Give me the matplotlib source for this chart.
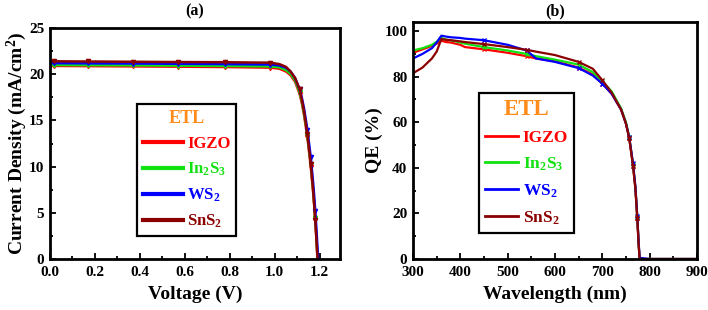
import matplotlib
matplotlib.use("Agg")
import matplotlib.pyplot as plt
from matplotlib.ticker import MultipleLocator, FormatStrFormatter

plt.rcParams['font.family'] = ['Liberation Serif', 'DejaVu Serif']
plt.rcParams['font.weight'] = 'bold'
plt.rcParams['mathtext.fontset'] = 'custom'
plt.rcParams['mathtext.rm'] = 'Liberation Serif:bold'
plt.rcParams['mathtext.it'] = 'Liberation Serif:bold'
plt.rcParams['mathtext.bf'] = 'Liberation Serif:bold'

# series names and colours
labels = ['IGZO', 'In$_2$S$_3$', 'WS$_2$', 'SnS$_2$']
colors = ['#FF0000', '#11E011', '#0000FF', '#8B0000']

# (a) J-V curves
voltage = [0.0, 0.02, 0.17, 0.37, 0.57, 0.78, 0.98, 1.02, 1.05, 1.07, 1.09,
           1.11, 1.12, 1.13, 1.145, 1.16, 1.17, 1.175, 1.18, 1.185, 1.19, 1.195]
j_igzo = [20.9, 20.9, 20.88, 20.85, 20.82, 20.78, 20.72, 20.6, 20.3, 19.9, 19.2,
          17.9, 16.9, 15.6, 13.2, 10.0, 7.4, 5.9, 4.2, 2.3, 0.0, -1.8]
j_in2s3 = [21.0, 21.0, 20.98, 20.96, 20.93, 20.9, 20.85, 20.75, 20.45, 20.05, 19.35,
           18.1, 17.1, 15.8, 13.4, 10.3, 7.7, 6.1, 4.4, 2.5, 0.2, -1.6]
j_ws2 = [21.2, 21.2, 21.18, 21.16, 21.13, 21.1, 21.05, 20.95, 20.7, 20.3, 19.6,
         18.4, 17.5, 16.3, 14.0, 11.0, 8.4, 6.9, 5.2, 3.3, 1.2, -0.8]
j_sns2 = [21.4, 21.4, 21.38, 21.35, 21.32, 21.3, 21.25, 21.1, 20.8, 20.3, 19.6,
          18.4, 17.3, 16.0, 13.5, 10.3, 7.6, 6.0, 4.2, 2.2, 0.1, -1.5]

# (b) QE spectra
wavelength = [300, 320, 340, 350, 360, 370, 380, 400, 410, 450, 500, 540, 560, 600,
              650, 680, 700, 720, 740, 750, 757, 765, 770, 774, 777, 779, 800, 850, 900]
qe_igzo = [90.5, 92.0, 93.5, 94.5, 95.8, 95.2, 95.0, 94.0, 93.0, 92.0, 90.5, 89.0, 88.0, 86.8,
           84.0, 81.0, 77.0, 72.5, 65.5, 59.5, 53.0, 41.0, 31.0, 18.0, 6.0, 0.0, 0.0, 0.0, 0.0]
qe_in2s3 = [91.5, 92.5, 94.0, 95.3, 97.0, 96.3, 96.0, 95.0, 94.5, 93.0, 91.5, 90.0, 89.0, 87.5,
            85.3, 82.0, 78.0, 73.5, 66.0, 60.0, 53.5, 41.5, 31.5, 18.5, 6.5, 0.0, 0.0, 0.0, 0.0]
qe_ws2 = [88.0, 90.0, 92.5, 95.0, 98.0, 97.6, 97.3, 97.0, 96.7, 96.0, 94.0, 91.5, 88.0, 86.5,
          83.8, 80.5, 77.0, 72.5, 65.5, 59.5, 53.5, 42.0, 32.0, 19.0, 7.0, 0.5, 0.0, 0.0, 0.0]
qe_sns2 = [81.5, 84.0, 88.0, 91.0, 96.5, 96.2, 96.0, 95.5, 95.2, 94.3, 93.0, 91.8, 91.0, 89.5,
           86.5, 83.5, 78.5, 73.0, 65.5, 59.5, 53.0, 41.0, 31.0, 18.0, 6.0, 0.0, 0.0, 0.0, 0.0]

jv_series = [j_igzo, j_in2s3, j_ws2, j_sns2]
qe_series = [qe_igzo, qe_in2s3, qe_ws2, qe_sns2]

fig = plt.figure(figsize=(7.08, 3.10), dpi=100)
ax1 = fig.add_axes([0.0706, 0.1645, 0.4096, 0.745])
ax2 = fig.add_axes([0.5833, 0.1645, 0.401, 0.7645])


def style_axes(ax):
    for sp in ax.spines.values():
        sp.set_linewidth(2.0)
    ax.tick_params(which='both', direction='in', top=False, right=False,
                   labelsize=11, width=1.3)
    ax.tick_params(which='major', length=4)
    ax.tick_params(which='minor', length=2.5)
    ax.tick_params(axis='x', pad=5)
    ax.tick_params(axis='y', pad=4)
    for t in ax.get_xticklabels() + ax.get_yticklabels():
        t.set_fontweight('bold')


def make_legend(ax, anchor, hlen, fs, tfs, lw, spacing):
    leg = ax.legend(loc='lower left', bbox_to_anchor=anchor, borderaxespad=0,
                    title='ETL', fontsize=fs, handlelength=hlen, handletextpad=0.25,
                    labelspacing=spacing, borderpad=0.35, fancybox=False,
                    edgecolor='black', framealpha=1, labelcolor='linecolor',
                    title_fontproperties={'size': tfs, 'weight': 'bold'})
    leg.get_title().set_color('#FF8C1A')
    leg.get_frame().set_linewidth(1.6)
    for h in leg.legend_handles:
        h.set_linewidth(lw)
        h.set_marker('')
    return leg


# panel (a)
for j, lab, c in zip(jv_series, labels, colors):
    ax1.plot(voltage, j, color=c, lw=1.8, label=lab, marker='v', ms=3,
             markevery=[1, 2, 3, 4, 5, 6, 11, 14, 15, 18])
ax1.set_xlim(0, 1.29)
ax1.set_ylim(0, 25)
ax1.xaxis.set_major_locator(MultipleLocator(0.2))
ax1.xaxis.set_minor_locator(MultipleLocator(0.1))
ax1.yaxis.set_major_locator(MultipleLocator(5))
ax1.yaxis.set_minor_locator(MultipleLocator(2.5))
ax1.xaxis.set_major_formatter(FormatStrFormatter('%.1f'))
ax1.set_xlabel('Voltage (V)', fontsize=14, fontweight='bold', labelpad=5)
ax1.set_ylabel('Current Density (mA/cm$^2$)', fontsize=14, fontweight='bold', labelpad=0)
ax1.set_title('(a)', fontsize=11.5, fontweight='bold', pad=9)
style_axes(ax1)
make_legend(ax1, (0.30, 0.10), 2.4, 12, 13, 3.0, 0.52)

# panel (b)
for q, lab, c in zip(qe_series, labels, colors):
    ax2.plot(wavelength, q, color=c, lw=1.6, label=lab, marker='x', ms=2.5,
             markevery=[9, 11, 14, 16, 20, 21, 23])
ax2.set_xlim(300, 900)
ax2.set_ylim(0, 104)
ax2.xaxis.set_major_locator(MultipleLocator(100))
ax2.xaxis.set_minor_locator(MultipleLocator(50))
ax2.yaxis.set_major_locator(MultipleLocator(20))
ax2.yaxis.set_minor_locator(MultipleLocator(10))
ax2.set_xlabel('Wavelength (nm)', fontsize=14, fontweight='bold', labelpad=5)
ax2.set_ylabel('QE (%)', fontsize=14, fontweight='bold', labelpad=1)
ax2.set_title('(b)', fontsize=11.5, fontweight='bold', pad=4.5)
style_axes(ax2)
make_legend(ax2, (0.233, 0.11), 1.9, 12.5, 16.5, 2.0, 0.55)

fig.savefig('out.png', dpi=100)
